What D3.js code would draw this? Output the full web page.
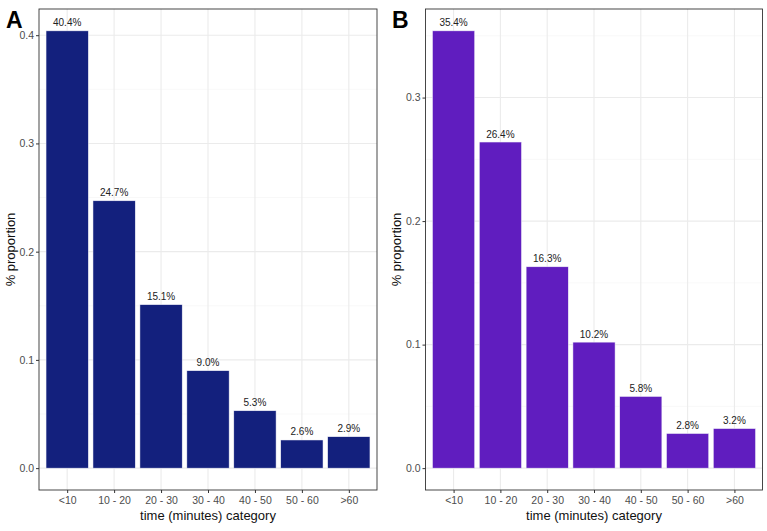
<!DOCTYPE html>
<html>
<head>
<meta charset="utf-8">
<script src="https://cdn.jsdelivr.net/npm/d3@7"></script>
<style>
  body { margin: 0; background: #fff; }
  svg { font-family: "Liberation Sans", Arial, sans-serif; }
</style>
</head>
<body>
<svg id="chart" width="767" height="531"></svg>
<script>
// categories and values
const categories = ['<10', '10 - 20', '20 - 30', '30 - 40', '40 - 50', '50 - 60', '>60'];
const valuesA = [0.404, 0.247, 0.151, 0.090, 0.053, 0.026, 0.029];
const valuesB = [0.354, 0.264, 0.163, 0.102, 0.058, 0.028, 0.032];
const ticksA = [0, 0.1, 0.2, 0.3, 0.4];
const ticksB = [0, 0.1, 0.2, 0.3];

const svg = d3.select('#chart');

function drawPanel(opts) {
    const { left, right, top, bottom, values, ticks, color, tag, tagX } = opts;
    const g = svg.append('g');

    // ggplot style discrete expansion (0.6 units each side)
    const n = categories.length;
    const unit = (right - left) / (n - 1 + 1.2);
    const x = d3.scalePoint().domain(categories)
        .range([left + 0.6 * unit, right - 0.6 * unit]);
    const barW = unit * 0.9;

    const maxV = d3.max(values);
    const pad = maxV * 0.05;
    const y = d3.scaleLinear().domain([-pad, maxV + pad]).range([bottom, top]);

    // minor grid
    const minor = d3.range(ticks.length - 1).map(i => (ticks[i] + ticks[i + 1]) / 2);
    if (ticks[ticks.length - 1] + 0.05 < maxV + pad) minor.push(ticks[ticks.length - 1] + 0.05);
    g.selectAll('.minor').data(minor).join('line')
        .attr('x1', left).attr('x2', right)
        .attr('y1', d => y(d)).attr('y2', d => y(d))
        .attr('stroke', '#f4f4f4').attr('stroke-width', 0.6);

    // major grid
    g.selectAll('.majorY').data(ticks).join('line')
        .attr('x1', left).attr('x2', right)
        .attr('y1', d => y(d)).attr('y2', d => y(d))
        .attr('stroke', '#ebebeb').attr('stroke-width', 1.1);
    g.selectAll('.majorX').data(categories).join('line')
        .attr('x1', d => x(d)).attr('x2', d => x(d))
        .attr('y1', top).attr('y2', bottom)
        .attr('stroke', '#ebebeb').attr('stroke-width', 1.1);

    // bars
    g.selectAll('.bar').data(values).join('rect')
        .attr('x', (d, i) => x(categories[i]) - barW / 2)
        .attr('width', barW)
        .attr('y', d => y(d))
        .attr('height', d => y(0) - y(d))
        .attr('fill', color)
        .attr('stroke', '#f0f0f8').attr('stroke-width', 0.5);

    // value labels
    g.selectAll('.lab').data(values).join('text')
        .attr('x', (d, i) => x(categories[i]))
        .attr('y', d => y(d) - 4.5)
        .attr('text-anchor', 'middle')
        .attr('font-size', 10)
        .attr('fill', '#222')
        .text(d => (d * 100).toFixed(1) + '%');

    // panel border
    g.append('rect')
        .attr('x', left).attr('y', top)
        .attr('width', right - left).attr('height', bottom - top)
        .attr('fill', 'none').attr('stroke', '#333').attr('stroke-width', 0.9);

    // y axis
    const yAxis = g.append('g')
        .attr('transform', `translate(${left},0)`)
        .call(d3.axisLeft(y).tickValues(ticks).tickSize(3).tickPadding(2).tickFormat(d3.format('.1f')));
    yAxis.select('.domain').remove();
    yAxis.selectAll('line').attr('stroke', '#333');
    yAxis.selectAll('text').attr('fill', '#4d4d4d').attr('font-size', 10.5)
        .attr('font-family', '"Liberation Sans", Arial, sans-serif');

    // x axis
    const xAxis = g.append('g')
        .attr('transform', `translate(0,${bottom})`)
        .call(d3.axisBottom(x).tickSize(3).tickPadding(4));
    xAxis.select('.domain').remove();
    xAxis.selectAll('line').attr('stroke', '#333');
    xAxis.selectAll('text').attr('fill', '#4d4d4d').attr('font-size', 10.5)
        .attr('font-family', '"Liberation Sans", Arial, sans-serif');

    // axis titles
    g.append('text')
        .attr('x', (left + right) / 2).attr('y', 520)
        .attr('text-anchor', 'middle').attr('font-size', 13).attr('fill', '#111')
        .text('time (minutes) category');
    g.append('text')
        .attr('transform', `translate(${tagX + 9},${(top + bottom) / 2}) rotate(-90)`)
        .attr('text-anchor', 'middle').attr('font-size', 13).attr('fill', '#111')
        .text('% proportion');

    // panel tag
    g.append('text')
        .attr('x', tagX).attr('y', 28)
        .attr('font-size', 23).attr('font-weight', 'bold').attr('fill', '#000')
        .text(tag);
}

drawPanel({ left: 39, right: 377, top: 9, bottom: 490, values: valuesA, ticks: ticksA,
    color: '#13207d', tag: 'A', tagX: 6 });
drawPanel({ left: 425.5, right: 762.5, top: 9, bottom: 490, values: valuesB, ticks: ticksB,
    color: '#601dbf', tag: 'B', tagX: 392 });
</script>
</body>
</html>
